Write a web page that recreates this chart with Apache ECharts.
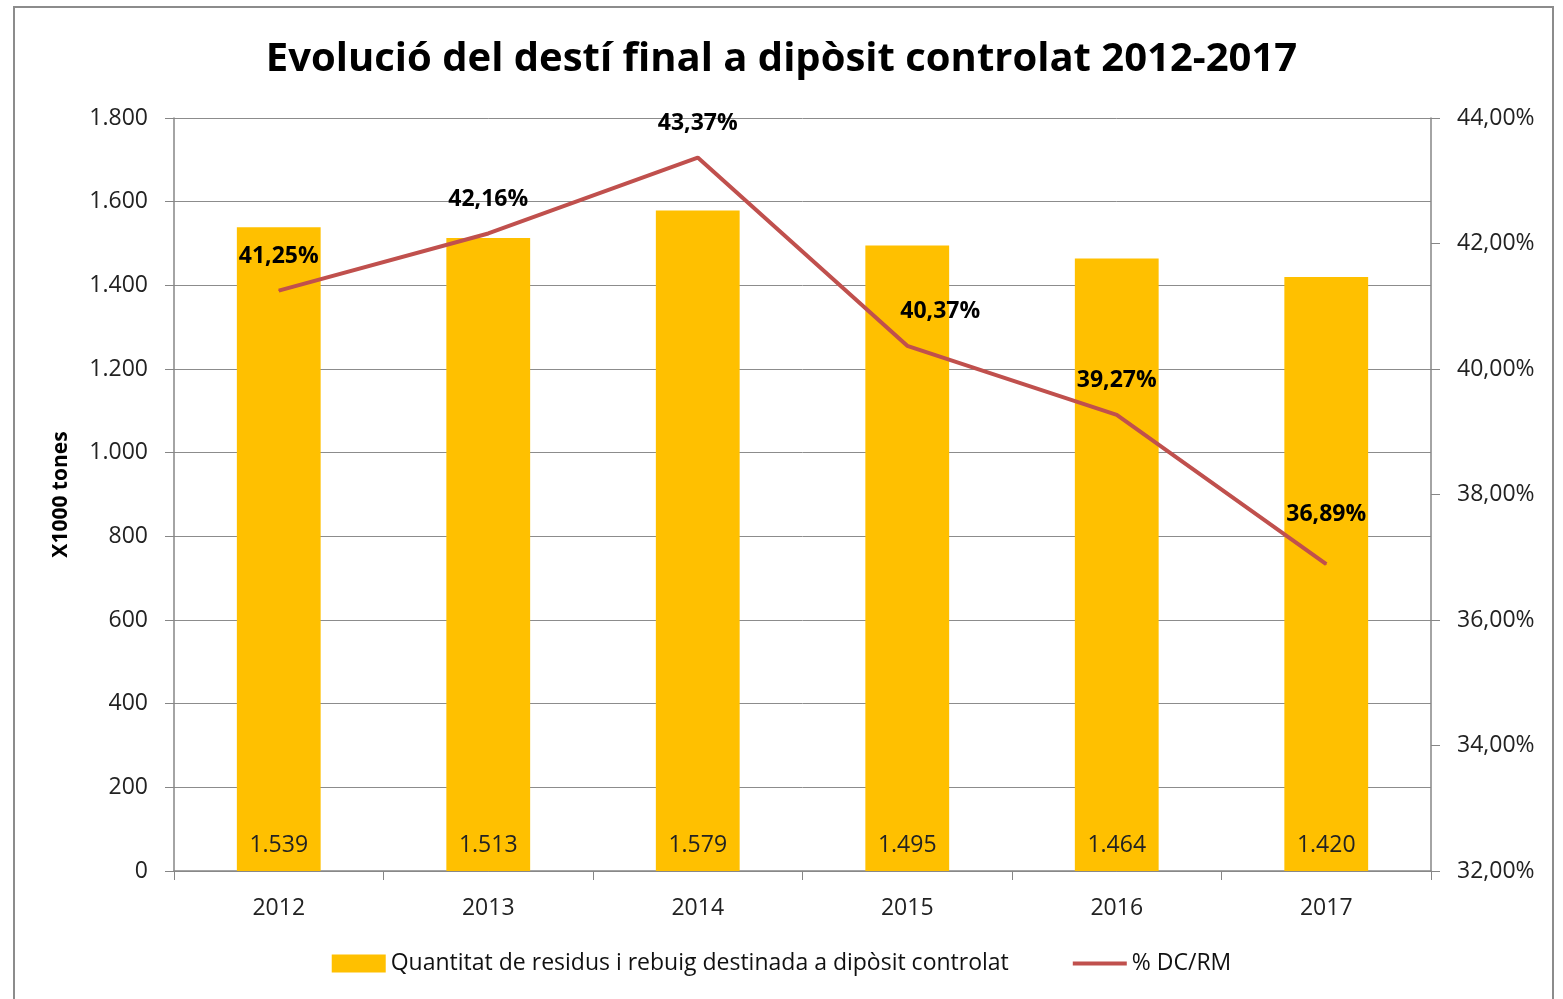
<!DOCTYPE html>
<html><head><meta charset="utf-8">
<script src="https://cdn.jsdelivr.net/npm/echarts@6/dist/echarts.min.js"></script>
<style>html,body{margin:0;padding:0;background:#fff}#c{width:1563px;height:999px}</style>
</head><body><div id="c"></div>
<script>
var years = ['2012','2013','2014','2015','2016','2017'];
var quantitat = [1539, 1513, 1579, 1495, 1464, 1420];
var pctDCRM = [41.25, 42.16, 43.37, 40.37, 39.27, 36.89];
var barName = 'Quantitat de residus i rebuig destinada a dipòsit controlat';
var lineName = '% DC/RM';

function thou(v){ return String(v).replace(/\B(?=(\d{3})+(?!\d))/g, '.'); }
function pct(v){ return v.toFixed(2).replace('.', ',') + '%'; }

// label placement tweaks (style only)
var labelOffsets = { '2015': [33, 0], '2017': [0, -16] };

var font = '"Open Sans", "Noto Sans", sans-serif';
var chart = echarts.init(document.getElementById('c'));
chart.setOption({
  animation: false,
  textStyle: { fontFamily: font },
  graphic: [{ type: 'rect', shape: { x: 14, y: 7, width: 1539, height: 1000 },
    style: { fill: 'none', stroke: '#8c8c8c', lineWidth: 2 }, silent: true }],
  title: { text: 'Evolució del destí final a dipòsit controlat 2012-2017', left: 'center', top: 35,
    textStyle: { fontSize: 40, fontWeight: 'bold', color: '#000', fontFamily: font } },
  grid: { left: 174, right: 132, top: 118, bottom: 128 },
  legend: { bottom: 19, left: 'center', itemGap: 62, itemWidth: 54, itemHeight: 18,
    textStyle: { fontSize: 23, color: '#111', fontFamily: font },
    data: [{ name: barName, icon: 'rect' },
           { name: lineName, itemStyle: { opacity: 0 }, lineStyle: { width: 4, color: '#C0504D' } }] },
  xAxis: { type: 'category', data: years,
    axisLine: { lineStyle: { color: '#868686', width: 1.5 } },
    axisTick: { show: true, alignWithLabel: false, length: 9, lineStyle: { color: '#868686' } },
    axisLabel: { fontSize: 23, color: '#222', margin: 26, fontFamily: font } },
  yAxis: [
    { type: 'value', min: 0, max: 1800, interval: 200, name: 'X1000 tones', nameLocation: 'middle', nameGap: 102,
      nameTextStyle: { fontSize: 21, fontWeight: 'bold', color: '#000', fontFamily: font },
      axisLine: { show: true, lineStyle: { color: '#868686', width: 1.5 } },
      axisTick: { show: true, length: 9, lineStyle: { color: '#868686' } },
      axisLabel: { fontSize: 23, color: '#222', margin: 26, formatter: thou, fontFamily: font },
      splitLine: { lineStyle: { color: '#8c8c8c', width: 1 } } },
    { type: 'value', min: 32, max: 44, interval: 2, position: 'right',
      axisLine: { show: true, lineStyle: { color: '#868686', width: 1.5 } },
      axisTick: { show: true, length: 9, lineStyle: { color: '#868686' } },
      axisLabel: { fontSize: 23, color: '#222', margin: 26, formatter: pct, fontFamily: font },
      splitLine: { show: false } }
  ],
  series: [
    { name: barName, type: 'bar', data: quantitat, barWidth: '40%', yAxisIndex: 0,
      itemStyle: { color: '#FFC000' },
      label: { show: true, position: 'insideBottom', distance: 14, fontSize: 23, color: '#222',
        formatter: function(p){ return thou(p.value); }, fontFamily: font } },
    { name: lineName, type: 'line', data: pctDCRM, yAxisIndex: 1, symbol: 'circle', symbolSize: 1,
      lineStyle: { color: '#C0504D', width: 4 }, itemStyle: { color: '#C0504D' },
      labelLayout: function(p){
        var o = labelOffsets[years[p.dataIndex]] || [0, 0];
        return { dx: o[0], dy: o[1], hideOverlap: false };
      },
      label: { show: true, position: 'top', distance: 22, fontSize: 23, fontWeight: 'bold', color: '#000',
        formatter: function(p){ return pct(p.value); }, fontFamily: font } }
  ]
});
</script></body></html>
